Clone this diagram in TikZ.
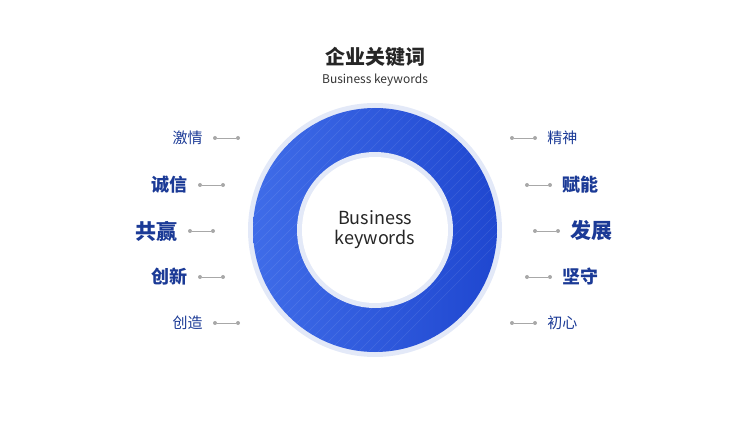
\documentclass[tikz,border=0pt]{standalone}
\usepackage{fontspec}
\setmainfont{Noto Sans CJK SC}
\usetikzlibrary{positioning}
\definecolor{ringblue}{HTML}{2A5CE6}
\definecolor{ringdark}{HTML}{1F47D0}
\definecolor{halo}{HTML}{E3E9F8}
\definecolor{txtblue}{HTML}{1B3A96}
\definecolor{dotgray}{HTML}{A8A8A8}
\begin{document}
\begin{tikzpicture}[x=1pt,y=-1pt,
        kws/.style = {font=\fontsize{15}{15}\selectfont, text=txtblue, inner sep=0pt},
        kwm/.style = {font=\fontsize{18}{18}\selectfont\bfseries, text=txtblue, inner sep=0pt},
        kwl/.style = {font=\fontsize{21}{21}\selectfont\bfseries, text=txtblue, inner sep=0pt},
        dot/.style = {circle, fill=dotgray, inner sep=0pt, minimum size=4pt},
        link/.style = {dotgray, line width=0.8pt},
    ]
    \useasboundingbox (0,0) rectangle (750,422);
    % title
    \node[font=\fontsize{20}{20}\selectfont\bfseries, text=black!85] (title) at (375,57) {企业关键词};
    \node[font=\fontsize{12}{12}\selectfont, text=black!80] (sub) at (375,80) {Business keywords};
    % ring
    \fill[halo] (375,230) circle (127);
    \shade[left color=ringblue!90!white, right color=ringdark] (375,230) circle (122);
    \begin{scope}
        \clip (375,230) circle (122);
        \foreach \k in {-120,-110,...,640}
            \draw[white, opacity=0.10, line width=0.5pt] (\k,100) -- ++(-260,260);
    \end{scope}
    \fill[halo] (375,230) circle (78);
    \fill[white] (375,230) circle (73);
    \node[align=center, font=\fontsize{18}{20}\selectfont, text=black!85] (core) at (375,230) {Business\\keywords};
    % left side
    \foreach \name/\txt/\y/\xa/\st in {la/激情/138/215/kws, lb/诚信/185/200/kwm, lc/共赢/231/190/kwl, ld/创新/277/200/kwm, le/创造/323/215/kws} {
        \node[dot] (\name1) at (\xa,\y) {};
        \node[dot] (\name2) at (\xa+23,\y) {};
        \draw[link] (\name1) -- (\name2);
        \node[\st, left=10pt of \name1] (\name t) {\txt};
    }
    % right side
    \foreach \name/\txt/\y/\xa/\st in {ra/精神/138/512/kws, rb/赋能/185/527/kwm, rc/发展/231/535/kwl, rd/坚守/277/527/kwm, re/初心/323/512/kws} {
        \node[dot] (\name1) at (\xa,\y) {};
        \node[dot] (\name2) at (\xa+23,\y) {};
        \draw[link] (\name1) -- (\name2);
        \node[\st, right=10pt of \name2] (\name t) {\txt};
    }
\end{tikzpicture}
\end{document}
